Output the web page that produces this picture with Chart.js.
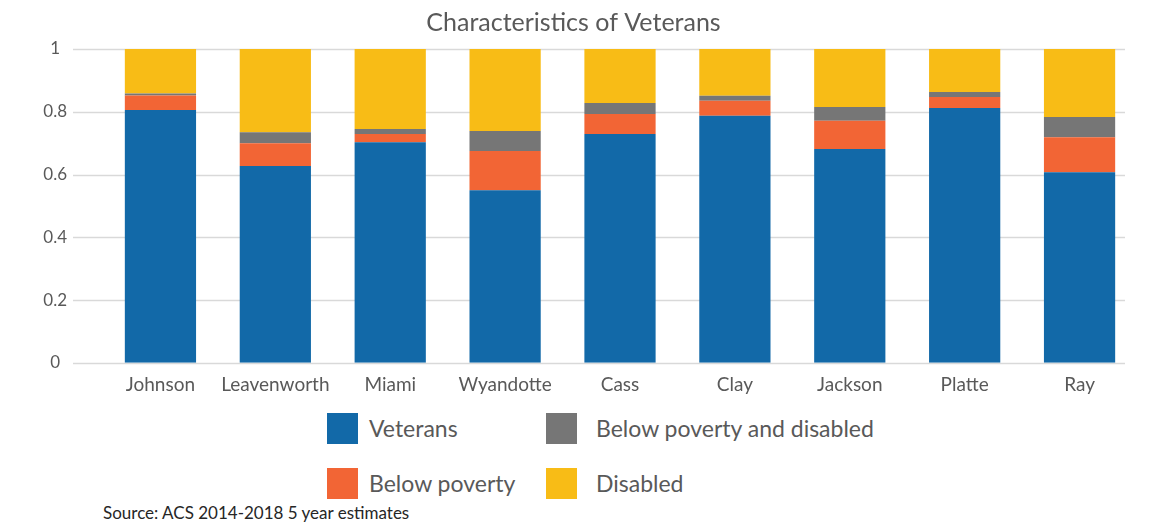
<!DOCTYPE html>
<html>
<head>
<meta charset="utf-8">
<script src="https://cdn.jsdelivr.net/npm/chart.js@4"></script>
<style>
  body { margin: 0; background: #fff; font-family: Lato, sans-serif; }
  #wrap { position: relative; width: 1157px; height: 522px; }
  #box { position: absolute; left: 0; top: 0; width: 1157px; height: 409px; }
  .sw { position: absolute; width: 31px; height: 31px; }
  .lt { position: absolute; color: #595959; font-size: 23px; line-height: 31px; white-space: nowrap; }
  #source { position: absolute; left: 103px; top: 502px; font-size: 17px; color: #262626; white-space: nowrap; }
</style>
</head>
<body>
<div id="wrap">
  <div id="box"><canvas id="chart"></canvas></div>
  <div id="legend"></div>
  <div id="source">Source: ACS 2014-2018 5 year estimates</div>
</div>
<script>
// Daten
const counties = ['Johnson', 'Leavenworth', 'Miami', 'Wyandotte', 'Cass', 'Clay', 'Jackson', 'Platte', 'Ray'];
const veterans = [0.806, 0.627, 0.703, 0.550, 0.729, 0.787, 0.681, 0.812, 0.607];
const belowPoverty = [0.046, 0.073, 0.026, 0.125, 0.064, 0.048, 0.090, 0.035, 0.112];
const povertyDisabled = [0.006, 0.035, 0.016, 0.064, 0.035, 0.016, 0.044, 0.016, 0.064];
const disabled = [0.142, 0.265, 0.255, 0.261, 0.172, 0.149, 0.185, 0.137, 0.217];
const yTicks = [0, 0.2, 0.4, 0.6, 0.8, 1];
const yTickLabels = ['0', '0.2', '0.4', '0.6', '0.8', '1'];

const grey = '#595959';

// horizontale Gitterlinien selbst zeichnen (laufen im Original weiter links los)
const gridLines = {
  id: 'gridLines',
  beforeDatasetsDraw(chart) {
    const y = chart.scales.y;
    const ctx = chart.ctx;
    ctx.save();
    ctx.strokeStyle = '#d9d9d9';
    ctx.lineWidth = 1.5;
    yTicks.forEach(v => {
      const py = Math.round(y.getPixelForValue(v)) + 0.5;
      ctx.beginPath();
      ctx.moveTo(73, py);
      ctx.lineTo(1125, py);
      ctx.stroke();
    });
    ctx.restore();
  }
};

const chart = new Chart(document.getElementById('chart'), {
  type: 'bar',
  data: {
    labels: counties,
    datasets: [
      { label: 'Veterans', data: veterans, backgroundColor: '#1269a8' },
      { label: 'Below poverty', data: belowPoverty, backgroundColor: '#f26535' },
      { label: 'Below poverty and disabled', data: povertyDisabled, backgroundColor: '#767676' },
      { label: 'Disabled', data: disabled, backgroundColor: '#f8bc16' }
    ]
  },
  options: {
    responsive: true,
    maintainAspectRatio: false,
    animation: false,
    layout: { padding: { left: 10, right: 20, top: 0, bottom: 0 } },
    datasets: { bar: { categoryPercentage: 1, barPercentage: 0.62 } },
    plugins: {
      legend: { display: false },
      tooltip: { enabled: false },
      title: {
        display: true,
        text: 'Characteristics of Veterans',
        color: grey,
        font: { family: 'Lato', size: 25, weight: 'normal' },
        padding: { top: 8, bottom: 11 }
      }
    },
    scales: {
      x: {
        stacked: true,
        grid: { display: false, drawTicks: false },
        border: { display: false },
        ticks: { color: grey, font: { family: 'Lato', size: 19 }, padding: 11 },
        afterFit: s => { s.height = 40; }
      },
      y: {
        stacked: true,
        min: 0,
        max: 1,
        grid: { display: false, drawTicks: false },
        border: { display: false },
        afterBuildTicks: s => { s.ticks = yTicks.map(v => ({ value: v })); },
        ticks: {
          color: grey,
          font: { family: 'Lato', size: 17 },
          padding: 36,
          crossAlign: 'center',
          callback: (v, i) => yTickLabels[i]
        },
        afterFit: s => { s.width = 93; }
      }
    }
  },
  plugins: [gridLines]
});

// Legende als 2x2 Raster wie im Original
const legendOrder = [0, 2, 1, 3];
const swatchX = [327, 546];
const textX = [369, 596];
const rowY = [413, 468];
const legend = document.getElementById('legend');
legendOrder.forEach((di, i) => {
  const ds = chart.data.datasets[di];
  const col = i % 2, row = Math.floor(i / 2);
  const sw = document.createElement('div');
  sw.className = 'sw';
  sw.style.left = swatchX[col] + 'px';
  sw.style.top = rowY[row] + 'px';
  sw.style.background = ds.backgroundColor;
  const tx = document.createElement('div');
  tx.className = 'lt';
  tx.style.left = textX[col] + 'px';
  tx.style.top = rowY[row] + 'px';
  tx.textContent = ds.label;
  legend.appendChild(sw);
  legend.appendChild(tx);
});
</script>
</body>
</html>
